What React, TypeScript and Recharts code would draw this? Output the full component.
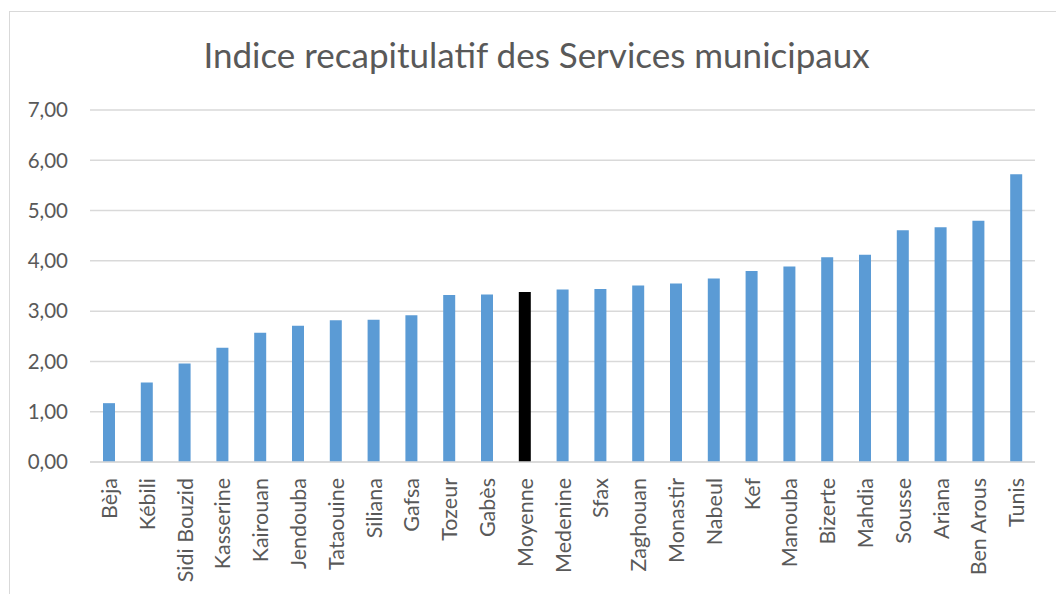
import React from "react";
import {
  BarChart,
  Bar,
  XAxis,
  YAxis,
  CartesianGrid,
  Cell,
} from "recharts";

const gouvernorats = [
  "Bèja",
  "Kébili",
  "Sidi Bouzid",
  "Kasserine",
  "Kairouan",
  "Jendouba",
  "Tataouine",
  "Siliana",
  "Gafsa",
  "Tozeur",
  "Gabès",
  "Moyenne",
  "Medenine",
  "Sfax",
  "Zaghouan",
  "Monastir",
  "Nabeul",
  "Kef",
  "Manouba",
  "Bizerte",
  "Mahdia",
  "Sousse",
  "Ariana",
  "Ben Arous",
  "Tunis",
];

const indices = [
  1.17, 1.58, 1.96, 2.27, 2.57, 2.71, 2.82, 2.83, 2.92, 3.32, 3.33, 3.38, 3.43,
  3.44, 3.51, 3.55, 3.65, 3.8, 3.89, 4.07, 4.12, 4.61, 4.67, 4.8, 5.72,
];

const yTicks = [0, 1, 2, 3, 4, 5, 6, 7];

const highlighted = "Moyenne";

const FONT = "Lato, 'Open Sans', sans-serif";
const TEXT = "#595959";

const data = gouvernorats.map((name, i) => ({ name, value: indices[i] }));

const fmt = (v: number) => v.toFixed(2).replace(".", ",");

const RotatedTick = (props: any) => {
  const { x, y, payload } = props;
  return (
    <text
      x={x}
      y={y + 8}
      transform={`rotate(-90, ${x}, ${y + 8})`}
      textAnchor="end"
      dominantBaseline="central"
      fill={TEXT}
      fontSize={21.5}
      fontFamily={FONT}
    >
      {payload.value}
    </text>
  );
};

const App = () => {
  return (
    <div
      style={{
        position: "fixed",
        left: 0,
        top: 0,
        width: 1056,
        height: 594,
        overflow: "hidden",
        background: "#fff",
      }}
    >
      <div
        style={{
          position: "absolute",
          left: 9,
          top: 11,
          width: 1100,
          height: 700,
          border: "1.5px solid #d9d9d9",
          boxSizing: "border-box",
        }}
      />
      <div
        style={{
          position: "absolute",
          left: 9,
          width: 1055,
          top: 34,
          textAlign: "center",
          fontFamily: FONT,
          fontSize: 35,
          color: TEXT,
          lineHeight: "40px",
          whiteSpace: "nowrap",
        }}
      >
        Indice recapitulatif des Services municipaux
      </div>
      <div style={{ position: "absolute", left: 0, top: 0 }}>
        <BarChart
          width={1056}
          height={594}
          data={data}
          margin={{ top: 110, right: 21, left: 0, bottom: 0 }}
        >
          <CartesianGrid
            vertical={false}
            stroke="#d9d9d9"
            strokeWidth={1.5}
          />
          <XAxis
            dataKey="name"
            interval={0}
            height={132}
            tickLine={false}
            axisLine={{ stroke: "#d9d9d9", strokeWidth: 1.5 }}
            tick={<RotatedTick />}
          />
          <YAxis
            width={90}
            domain={[0, 7]}
            ticks={yTicks}
            tickFormatter={fmt}
            axisLine={false}
            tickLine={false}
            tickMargin={16}
            tick={{ fill: TEXT, fontSize: 20.5, fontFamily: FONT }}
          />
          <Bar dataKey="value" barSize={12} isAnimationActive={false}>
            {data.map((d) => (
              <Cell
                key={d.name}
                fill={d.name === highlighted ? "#000000" : "#5b9bd5"}
              />
            ))}
          </Bar>
        </BarChart>
      </div>
    </div>
  );
};

export default App;
